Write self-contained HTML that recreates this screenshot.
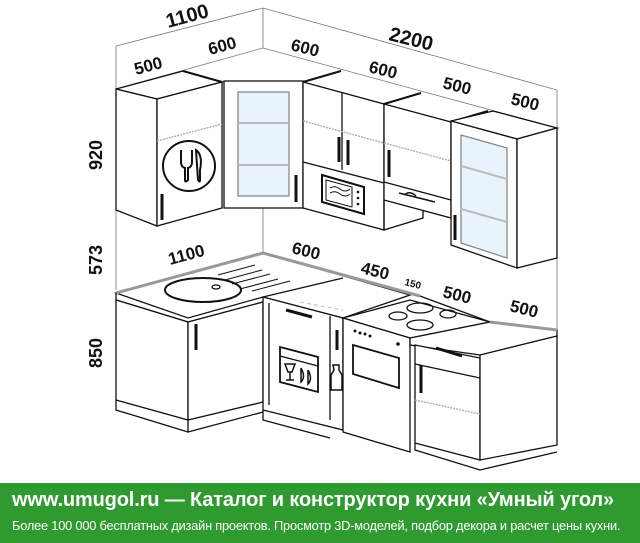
<!DOCTYPE html>
<html><head><meta charset="utf-8"><style>
body{margin:0;width:640px;height:543px;background:#fff;overflow:hidden;position:relative;font-family:"Liberation Sans",sans-serif}
svg{position:absolute;left:0;top:0}
.b{position:absolute;left:0;top:483px;width:640px;height:60px;background:#2f9a2f;color:#fff}
.t1{position:absolute;left:12px;top:6px;font-size:20px;font-weight:bold;white-space:nowrap;letter-spacing:-0.15px}
.t2{position:absolute;left:12px;top:35px;font-size:12.8px;white-space:nowrap;letter-spacing:-0.2px}
</style></head><body>
<svg width="640" height="483" viewBox="0 0 640 483" font-family="Liberation Sans, sans-serif" font-weight="bold" fill="none" stroke="#111" stroke-width="1.3">
<g stroke="#777" stroke-width="0.8">
<polyline points="116,290 116,46 263,8 557,90 557,330"/>
<line x1="263" y1="8" x2="263" y2="48"/>
<polyline points="116,89 263,48 557,128"/>
<line x1="263" y1="208" x2="263" y2="255"/>
</g>
<polygon points="116,89 157,99 222,82 183,71" fill="#fff"/>
<polygon points="116,89 157,99 157,226 116,210" fill="#fff"/>
<polygon points="157,99 222,82 222,208 157,226" fill="#fff"/>
<line x1="183" y1="71" x2="222" y2="82" stroke-width="2"/>
<line x1="157" y1="141" x2="222" y2="124" stroke="#aaa" stroke-dasharray="2,1"/>
<ellipse cx="189" cy="166" rx="26" ry="25" stroke-width="2"/>
<path d="M181 150v12q0 5 4 6v12q0 3 3 0v-12q4-1 4-6v-12" stroke-width="2"/>
<path d="M196 150q7 5 4 20v10q0 3 -2 0z" stroke-width="2"/>
<line x1="162" y1="194" x2="162" y2="220" stroke-width="3"/>
<rect x="224" y="81" width="79" height="127" fill="#fff"/>
<rect x="238" y="92" width="51" height="104" fill="#e8f3fb" stroke="#888"/>
<line x1="238" y1="123" x2="289" y2="123" stroke="#bbb" stroke-width="2"/>
<line x1="238" y1="165" x2="289" y2="165" stroke="#bbb" stroke-width="2"/>
<line x1="296" y1="175" x2="296" y2="202" stroke-width="3"/>
<polygon points="303,82 384,104 384,230 303,208" fill="#fff"/>
<line x1="342" y1="93" x2="342" y2="170"/>
<line x1="303" y1="162" x2="384" y2="183"/>
<polygon points="322,175 364,187 364,214 322,202" stroke-width="2"/>
<polygon points="326,180 352,187 352,207 326,200" stroke-width="1"/>
<path d="M330 188q5-3 10 1t10 0M330 193q5-3 10 1t10 0" stroke-width="1"/>
<g fill="#111" stroke="none"><circle cx="358" cy="192" r="1.3"/><circle cx="358" cy="198" r="1.3"/><circle cx="358" cy="204" r="1.3"/></g>
<line x1="339" y1="137" x2="339" y2="162" stroke-width="3"/>
<line x1="348" y1="140" x2="348" y2="165" stroke-width="3"/>
<line x1="303" y1="121" x2="384" y2="143" stroke="#aaa" stroke-dasharray="2,1"/>
<polygon points="384,104 451,122 451,218 384,200" fill="#fff"/>
<line x1="384" y1="182" x2="451" y2="200"/>
<polyline points="384,200 384,230 423,218 423,210"/>
<line x1="384" y1="143" x2="451" y2="161" stroke="#aaa" stroke-dasharray="2,1"/>
<line x1="389" y1="150" x2="389" y2="177" stroke-width="3"/>
<path d="M399 193l36 9M404 195q6-5 12 1" stroke-width="1.5"/>
<line x1="303" y1="82" x2="341" y2="71" stroke-width="2"/>
<line x1="384" y1="104" x2="421" y2="93" stroke-width="2"/>
<line x1="451" y1="122" x2="488" y2="111" stroke-width="2"/>
<polygon points="451,121 517,139 557,128 493,111" fill="#fff"/>
<polygon points="451,121 517,139 517,268 451,245" fill="#fff"/>
<polygon points="517,139 557,128 557,258 517,268" fill="#fff"/>
<polygon points="461,135 507,148 507,258 461,243" fill="#e8f3fb" stroke="#888"/>
<line x1="461" y1="166" x2="507" y2="179" stroke="#bbb" stroke-width="2"/>
<line x1="461" y1="209" x2="507" y2="222" stroke="#bbb" stroke-width="2"/>
<line x1="455" y1="215" x2="455" y2="240" stroke-width="3"/>
<polygon points="116,293 263,253 410,295 343,318 263,297 188,318" fill="#fff"/>
<polyline points="116,293 263,253 420,296" stroke="#999" stroke-width="3"/>
<polyline points="116,293 116,300 188,322 263,302"/>
<ellipse cx="203" cy="290" rx="38" ry="12" stroke-width="2"/>
<ellipse cx="216" cy="287" rx="4" ry="2"/>
<g stroke-width="1"><line x1="218" y1="275" x2="255" y2="265"/><line x1="225" y1="280" x2="262" y2="270"/><line x1="232" y1="284" x2="270" y2="274"/><line x1="240" y1="289" x2="278" y2="279"/><line x1="252" y1="291" x2="290" y2="281"/></g>
<line x1="263" y1="297" x2="343" y2="278" stroke="#111"/>
<polygon points="116,300 188,322 188,420 116,400" fill="#fff"/>
<polygon points="188,322 263,302 263,402 188,420" fill="#fff"/>
<polyline points="116,400 116,410 188,432 188,420"/><polyline points="188,432 263,412"/>
<line x1="196" y1="324" x2="196" y2="350" stroke-width="3"/>
<polygon points="263,297 343,318 343,430 263,410" fill="#fff"/>
<line x1="269" y1="303" x2="269" y2="405"/>
<line x1="330" y1="316" x2="330" y2="420"/>
<line x1="286" y1="310" x2="312" y2="317" stroke-width="3"/>
<polygon points="280,347 318,357 318,392 280,382" stroke-width="1.8"/>
<line x1="280" y1="356" x2="318" y2="366"/>
<path d="M285 364h10l-3 8h-4zM290 372v8M286 380h8" stroke-width="1.5"/>
<path d="M301 368v14q5-5 0-14M308 370v14q5-5 0-14" stroke-width="1.5"/>
<path d="M333 365h6v5l3 5v15h-11v-15l3-5z" stroke-width="1.5"/>
<line x1="337" y1="330" x2="337" y2="350" stroke-width="3"/>
<polyline points="263,410 263,420 330,438"/>
<polygon points="343,318 410,300 490,322 410,338" fill="#fff"/>
<polygon points="343,318 410,338 410,452 343,432" fill="#fff"/>
<g stroke-width="1.3"><ellipse cx="420" cy="308" rx="13" ry="5"/><ellipse cx="448" cy="314" rx="8" ry="4"/><ellipse cx="398" cy="316" rx="9" ry="4"/><ellipse cx="420" cy="325" rx="13" ry="5"/></g>
<polygon points="353,345 399,358 399,388 353,374" stroke-width="1.8"/>
<g fill="#111" stroke="none"><circle cx="355" cy="331" r="1.5"/><circle cx="360" cy="333" r="1.5"/><circle cx="365" cy="334" r="1.5"/><circle cx="370" cy="336" r="1.5"/><circle cx="398" cy="344" r="1.8"/></g>
<line x1="300" y1="302" x2="343" y2="310" stroke="#ccc" stroke-dasharray="4,3"/>
<polygon points="410,338 490,322 557,330 557,338 480,355 410,345" fill="#fff"/>
<polyline points="420,296 490,322"/>
<line x1="490" y1="322" x2="557" y2="330" stroke="#999" stroke-width="3"/>
<polygon points="415,345 480,358 480,460 415,443" fill="#fff"/>
<polygon points="480,355 557,336 557,445 480,460" fill="#fff"/>
<line x1="415" y1="364" x2="480" y2="378"/>
<line x1="415" y1="400" x2="480" y2="414" stroke="#aaa" stroke-dasharray="2,1"/>
<line x1="436" y1="348" x2="462" y2="356" stroke-width="3"/>
<line x1="421" y1="365" x2="421" y2="393" stroke-width="3"/>
<polyline points="415,443 415,450 480,470 557,452"/>
<g fill="#111" stroke="none" font-size="17">
<text x="168" y="28" transform="rotate(-15 168 28)" font-size="20">1100</text>
<text x="388" y="40" transform="rotate(14 388 40)" font-size="20">2200</text>
<text x="136" y="75" transform="rotate(-15 136 75)">500</text>
<text x="210" y="55" transform="rotate(-15 210 55)">600</text>
<text x="290" y="50" transform="rotate(14 290 50)">600</text>
<text x="368" y="72" transform="rotate(14 368 72)">600</text>
<text x="442" y="88" transform="rotate(14 442 88)">500</text>
<text x="510" y="104" transform="rotate(14 510 104)">500</text>
<text x="170" y="265" transform="rotate(-15 170 265)">1100</text>
<text x="291" y="253" transform="rotate(14 291 253)">600</text>
<text x="360" y="273" transform="rotate(14 360 273)">450</text>
<text x="404" y="285" font-size="10" transform="rotate(14 404 285)">150</text>
<text x="442" y="297" transform="rotate(14 442 297)">500</text>
<text x="509" y="311" transform="rotate(14 509 311)">500</text>
<text x="102" y="170" transform="rotate(-90 102 170)" font-size="18">920</text>
<text x="102" y="275" transform="rotate(-90 102 275)" font-size="18">573</text>
<text x="102" y="368" transform="rotate(-90 102 368)" font-size="18">850</text>
</g>
</svg>
<div class="b"><div class="t1">www.umugol.ru — Каталог и конструктор кухни «Умный угол»</div><div class="t2">Более 100 000 бесплатных дизайн проектов. Просмотр 3D-моделей, подбор декора и расчет цены кухни.</div></div>
</body></html>
